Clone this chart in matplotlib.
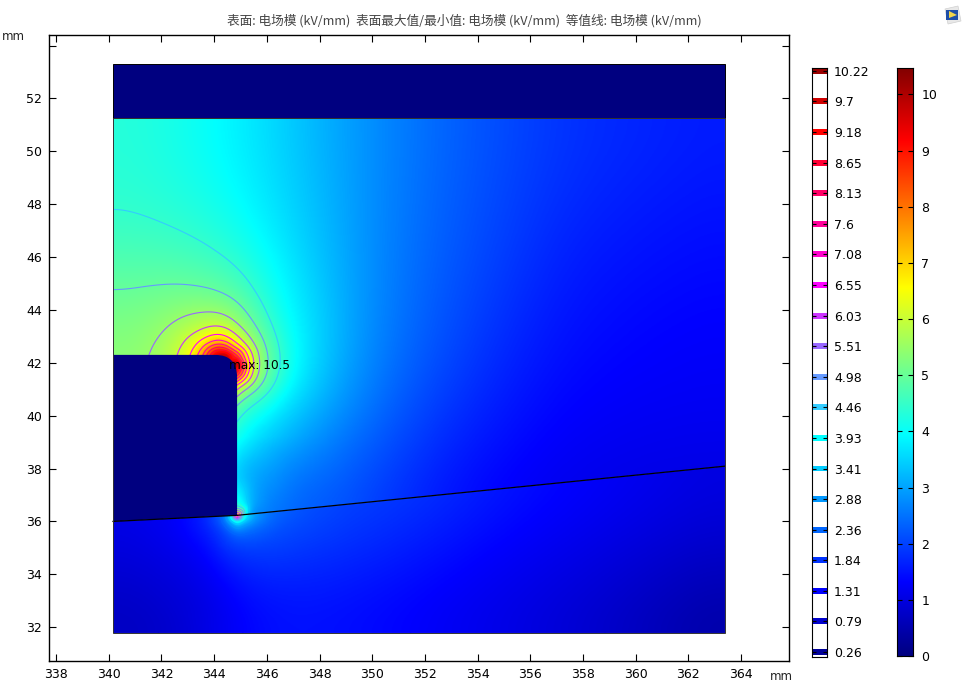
import matplotlib
matplotlib.use('Agg')
import matplotlib.pyplot as plt
import matplotlib.tri as mtri
import numpy as np
from matplotlib.colors import LinearSegmentedColormap
from matplotlib.patches import PathPatch, Polygon, Rectangle
from matplotlib.path import Path

W, H = 968, 685
title = '表面: 电场模 (kV/mm)  表面最大值/最小值: 电场模 (kV/mm)  等值线: 电场模 (kV/mm)'
max_label = 'max: 10.5'
fmax = 10.5

# contour levels in the legend bar
levels = [0.26, 0.79, 1.31, 1.84, 2.36, 2.88, 3.41, 3.93, 4.46, 4.98, 5.51,
          6.03, 6.55, 7.08, 7.6, 8.13, 8.65, 9.18, 9.7, 10.22]
level_labels = ['0.26', '0.79', '1.31', '1.84', '2.36', '2.88', '3.41', '3.93', '4.46', '4.98', '5.51',
                '6.03', '6.55', '7.08', '7.6', '8.13', '8.65', '9.18', '9.7', '10.22']

# geometry, mm
x_left, x_right = 340.16, 363.39
y_bottom, y_air_top, y_band_top = 31.78, 51.27, 53.3
y_block_top = 42.3
x_wall = 344.87
corner_x0, corner_y1 = 344.03, 41.45
x_int = [340.16, 344.87, 363.39]
y_int = [36.0, 36.23, 38.09]
hot_spots = [(344.64, 42.07), (344.87, 36.23)]

# field, upper region, one list per x node
upper_x = [340.16, 341.57, 342.71, 343.47, 344.03, 344.41, 344.87, 345.36, 345.93,
           346.50, 347.26, 348.40, 349.92, 352.57, 354.85, 357.13, 360.16, 363.39]
upper_y = [51.26, 49.29, 47.52, 45.89, 44.87, 43.92, 43.39, 43.05, 42.67, 42.30,
           41.92, 41.54, 41.27, 40.97, 40.40, 39.46, 37.95, 36.62, 36.20]
upper_field = [
    [4.38, 4.42, 4.46, 4.75, 4.98, 5.08, 5.15, 5.18, 5.2, 5.22, 5.22, 5.22, 5.22, 5.22, 5.22, 5.22, 5.22, 5.22, 5.22],
    [4.25, 4.3, 4.4, 4.75, 4.98, 5.17, 5.28, 5.33, 5.4, 5.45, 5.45, 5.45, 5.45, 5.45, 5.45, 5.45, 5.45, 5.45, 5.45],
    [4.1, 4.2, 4.32, 4.68, 5.0, 5.4, 5.65, 5.78, 5.9, 5.97, 6.0, 6.0, 6.0, 5.95, 5.9, 5.8, 5.5, 5.0, 5.0],
    [4.0, 4.1, 4.28, 4.62, 4.85, 5.45, 5.75, 6.08, 6.6, 7.08, 7.3, 7.2, 7.0, 6.6, 6.0, 5.5, 5.0, 4.5, 4.5],
    [3.92, 4.0, 4.2, 4.6, 4.9, 5.51, 6.03, 6.55, 7.6, 10.0, 10.2, 9.5, 8.5, 7.5, 6.0, 5.0, 4.0, 4.0, 4.0],
    [3.85, 3.95, 4.12, 4.5, 4.82, 5.4, 5.95, 6.45, 7.5, 10.0, 10.5, 10.3, 9.0, 7.0, 5.5, 4.5, 3.8, 4.0, 5.0],
    [3.78, 3.85, 4.0, 4.45, 4.8, 5.15, 5.5, 5.95, 6.55, 8.0, 10.2, 8.5, 6.55, 5.4, 4.46, 3.85, 3.1, 4.2, 7.0],
    [3.7, 3.78, 3.92, 4.2, 4.5, 4.85, 5.1, 5.4, 5.65, 6.2, 6.35, 6.1, 5.8, 5.2, 4.3, 3.75, 3.0, 3.1, 2.6],
    [3.6, 3.65, 3.75, 3.98, 4.2, 4.46, 4.65, 4.8, 4.92, 4.98, 5.02, 4.95, 4.8, 4.6, 4.1, 3.55, 2.9, 2.7, 2.5],
    [3.48, 3.52, 3.6, 3.75, 3.85, 4.0, 4.15, 4.25, 4.38, 4.46, 4.46, 4.4, 4.3, 4.15, 3.8, 3.35, 2.8, 2.5, 2.4],
    [3.3, 3.37, 3.45, 3.55, 3.62, 3.68, 3.72, 3.74, 3.76, 3.76, 3.75, 3.7, 3.65, 3.55, 3.3, 2.95, 2.5, 2.3, 2.2],
    [3.05, 3.1, 3.15, 3.2, 3.25, 3.28, 3.3, 3.3, 3.28, 3.27, 3.25, 3.22, 3.18, 3.12, 3.0, 2.75, 2.35, 2.15, 2.1],
    [2.8, 2.78, 2.76, 2.75, 2.74, 2.72, 2.7, 2.7, 2.68, 2.66, 2.64, 2.6, 2.58, 2.55, 2.48, 2.35, 2.1, 1.95, 1.9],
    [2.36, 2.34, 2.3, 2.26, 2.22, 2.19, 2.17, 2.15, 2.12, 2.1, 2.07, 2.03, 2.0, 1.97, 1.9, 1.8, 1.6, 1.5, 1.45],
    [2.1, 2.07, 2.02, 1.96, 1.9, 1.83, 1.8, 1.78, 1.75, 1.72, 1.7, 1.67, 1.65, 1.63, 1.58, 1.5, 1.35, 1.25, 1.2],
    [1.85, 1.8, 1.72, 1.62, 1.56, 1.52, 1.5, 1.48, 1.45, 1.43, 1.42, 1.4, 1.38, 1.37, 1.33, 1.27, 1.18, 1.1, 1.05],
    [1.7, 1.65, 1.55, 1.48, 1.42, 1.38, 1.36, 1.34, 1.33, 1.31, 1.3, 1.28, 1.27, 1.26, 1.24, 1.18, 1.08, 1.02, 1.0],
    [1.58, 1.52, 1.45, 1.38, 1.34, 1.3, 1.28, 1.27, 1.26, 1.25, 1.24, 1.23, 1.22, 1.21, 1.2, 1.15, 1.05, 1.0, 1.0],
]

# lower region, one list per y node
lower_x = [340.16, 341.57, 342.71, 343.65, 344.30, 344.60, 344.87, 345.17, 345.55,
           346.31, 347.26, 349.16, 351.81, 354.85, 358.65, 363.39]
lower_y = [38.32, 37.57, 36.81, 36.35, 36.20, 36.05, 35.82, 35.48, 34.92, 34.16, 33.03, 31.78]
lower_field = [
    [1.1, 1.1, 1.2, 1.6, 2.0, 2.5, 3.0, 2.6, 2.4, 2.2, 2.1, 2.0, 1.9, 1.55, 1.3, 1.0],
    [1.1, 1.1, 1.2, 1.6, 2.0, 2.5, 3.0, 2.6, 2.4, 2.2, 2.1, 2.0, 1.9, 1.55, 1.25, 0.98],
    [1.1, 1.1, 1.2, 1.6, 2.0, 2.5, 3.5, 3.0, 2.6, 2.4, 2.25, 2.05, 1.85, 1.5, 1.22, 0.95],
    [1.1, 1.12, 1.25, 1.65, 2.1, 3.0, 5.5, 3.6, 2.9, 2.4, 2.2, 2.0, 1.8, 1.48, 1.2, 0.92],
    [1.1, 1.15, 1.28, 1.7, 2.3, 3.6, 7.0, 3.8, 3.0, 2.4, 2.15, 1.98, 1.75, 1.45, 1.18, 0.9],
    [1.08, 1.15, 1.3, 1.8, 2.4, 3.3, 4.8, 3.4, 2.8, 2.33, 2.1, 1.95, 1.72, 1.42, 1.16, 0.88],
    [1.05, 1.12, 1.3, 1.6, 2.1, 2.6, 3.1, 2.7, 2.45, 2.15, 2.0, 1.9, 1.66, 1.4, 1.12, 0.85],
    [1.0, 1.08, 1.25, 1.5, 1.85, 2.1, 2.3, 2.25, 2.2, 2.05, 1.92, 1.84, 1.6, 1.35, 1.08, 0.8],
    [0.9, 1.0, 1.12, 1.33, 1.8, 1.85, 1.88, 1.9, 1.92, 1.9, 1.88, 1.78, 1.55, 1.28, 1.02, 0.72],
    [0.8, 0.9, 1.0, 1.15, 1.4, 1.5, 1.6, 1.65, 1.7, 1.75, 1.72, 1.6, 1.45, 1.2, 0.95, 0.6],
    [0.7, 0.78, 0.85, 1.0, 1.2, 1.25, 1.32, 1.4, 1.45, 1.5, 1.5, 1.45, 1.3, 1.1, 0.85, 0.45],
    [0.55, 0.62, 0.7, 0.85, 1.05, 1.2, 1.31, 1.35, 1.38, 1.4, 1.42, 1.38, 1.22, 1.02, 0.7, 0.25],
]

navy = '#000080'
stops = [0, 1 / 8, 3 / 8, 5 / 8, 7 / 8, 1]
surf_cmap = LinearSegmentedColormap.from_list(
    'surf', list(zip(stops, [navy, '#0000ff', '#00ffff', '#ffff00', '#ff0000', '#800000'])), N=512)
line_cmap = LinearSegmentedColormap.from_list(
    'lines', list(zip(stops, [navy, '#0000ff', '#00ffff', '#ff00ff', '#ff0000', '#800000'])), N=512)

plt.rcParams['font.family'] = ['DejaVu Sans']
plt.rcParams['font.size'] = 9


def px_axes(x0, y0, x1, y1):
    return fig.add_axes([x0 / W, 1 - y1 / H, (x1 - x0) / W, (y1 - y0) / H])


def blur(z, sigma):
    # sigma in grid cells
    if sigma == 0:
        return z
    r = int(3 * sigma) + 1
    k = np.exp(-0.5 * (np.arange(-r, r + 1) / sigma) ** 2)
    k /= k.sum()
    p = np.pad(z, r, mode='reflect')
    p = np.apply_along_axis(lambda v: np.convolve(v, k, mode='same'), 0, p)
    p = np.apply_along_axis(lambda v: np.convolve(v, k, mode='same'), 1, p)
    return p[r:-r, r:-r]


def draw_region(ax, xs, ys, field, clip, step=0.04):
    X, Y = np.meshgrid(xs, ys)
    tri = mtri.Triangulation(X.ravel(), Y.ravel())
    interp = mtri.LinearTriInterpolator(tri, field.ravel())
    gx = np.arange(min(xs), max(xs) + step, step)
    gy = np.arange(min(ys), max(ys) + step, step)
    GX, GY = np.meshgrid(np.clip(gx, min(xs), max(xs)), np.clip(gy, min(ys), max(ys)))
    z = np.ma.filled(interp(GX, GY), 1.0)
    # the table is coarse: smooth it, little next to the two hot spots and more far from them
    d = np.min([np.hypot(GX - sx, GY - sy) for sx, sy in hot_spots], axis=0)
    sig_mm = np.clip(0.28 * d, 0, 1.2)
    sig_list = np.array([0, 0.05, 0.1, 0.2, 0.4, 0.8, 1.2])
    stack = np.array([blur(z, s / step) for s in sig_list])
    pos = np.interp(sig_mm, sig_list, np.arange(len(sig_list)))
    i0 = np.minimum(pos.astype(int), len(sig_list) - 2)
    t = pos - i0
    rows, cols = np.indices(z.shape)
    z = stack[i0, rows, cols] * (1 - t) + stack[i0 + 1, rows, cols] * t
    im = ax.imshow(z, extent=[gx[0], gx[-1], gy[0], gy[-1]], origin='lower', aspect='auto',
                   cmap=surf_cmap, vmin=0, vmax=fmax, interpolation='bilinear', zorder=1)
    im.set_clip_path(clip)
    cs = ax.contour(gx, gy, z, levels=levels, cmap=line_cmap, vmin=0, vmax=fmax, linewidths=0.8, zorder=2)
    cs.set_clip_path(clip)


fig = plt.figure(figsize=(W / 100, H / 100), dpi=100)
ax = px_axes(49, 35, 789, 661)

upper_clip = Polygon([(x_left, y_air_top), (x_right, y_air_top), (x_int[2], y_int[2]),
                      (x_int[1], y_int[1]), (x_int[0], y_int[0])], transform=ax.transData)
lower_clip = Polygon([(x_int[0], y_int[0]), (x_int[1], y_int[1]), (x_int[2], y_int[2]),
                      (x_right, y_bottom), (x_left, y_bottom)], transform=ax.transData)

# upper_field is per x node, lower_field per y node (top to bottom)
draw_region(ax, upper_x, upper_y, np.array(upper_field).T, upper_clip)
draw_region(ax, lower_x, lower_y, np.array(lower_field), lower_clip)
ax.set_xlim(337.73, 365.82)
ax.set_ylim(30.72, 54.40)

# solid parts
ax.add_patch(Rectangle((x_left, y_air_top), x_right - x_left, y_band_top - y_air_top,
                       fc=navy, ec='black', lw=0.7, zorder=3))
block = Path([(x_left, y_int[0]), (x_left, y_block_top), (corner_x0, y_block_top),
              (x_wall, y_block_top), (x_wall, corner_y1), (x_wall, y_int[1]), (x_left, y_int[0])],
             [Path.MOVETO, Path.LINETO, Path.LINETO, Path.CURVE3, Path.CURVE3, Path.LINETO, Path.CLOSEPOLY])
ax.add_patch(PathPatch(block, fc=navy, ec='none', zorder=3))
ax.plot(x_int, y_int, color='black', lw=0.9, zorder=4)
ax.add_patch(Rectangle((x_left, y_bottom), x_right - x_left, y_air_top - y_bottom,
                       fc='none', ec='#333333', lw=0.7, zorder=4))
ax.text(344.55, 41.9, max_label, fontsize=8.7, color='black', va='center', ha='left', zorder=5)

ax.set_xticks(np.arange(338, 365, 2))
ax.set_yticks(np.arange(32, 55, 2))
ax.set_yticklabels([str(v) for v in range(32, 54, 2)] + [''])
ax.tick_params(direction='in', top=True, right=True, length=5, width=0.8, labelsize=9, pad=5)
for s in ax.spines.values():
    s.set_linewidth(1.0)
fig.text(2 / W, 1 - 37 / H, 'mm', fontsize=8.5, color='#222222', va='center')
fig.text(770 / W, 1 - 676 / H, 'mm', fontsize=8.5, color='#222222', va='center')
fig.text(464 / W, 1 - 21 / H, title, fontsize=9.14, color='#444444', ha='center', va='center',
         family=['Noto Sans CJK SC', 'DejaVu Sans'])

# contour legend
lax = px_axes(812, 68, 827, 656.5)
lax.set_ylim(0.19, 10.27)
lax.set_xlim(0, 1)
for lev in levels:
    lax.barh(lev, 1, height=0.102, left=0, color=line_cmap(lev / fmax))
lax.set_xticks([])
lax.set_yticks(levels)
lax.set_yticklabels(level_labels)
lax.yaxis.tick_right()
lax.tick_params(axis='y', direction='in', left=True, right=True, length=3, width=0.8, labelsize=9, pad=5)

# surface colour bar
cax = px_axes(897, 68, 913, 656)
cax.imshow(np.linspace(0, fmax, 512)[:, None], origin='lower', aspect='auto', cmap=surf_cmap,
           vmin=0, vmax=fmax, extent=[0, 1, 0, fmax])
cax.set_ylim(0, 10.47)
cax.set_xticks([])
cax.set_yticks(range(0, 11))
cax.yaxis.tick_right()
cax.tick_params(axis='y', direction='in', left=True, right=True, length=3.5, width=0.8, labelsize=9, pad=6)

# small logo at the top right corner
fig.add_artist(Polygon([(945 / W, 1 - 9 / H), (958 / W, 1 - 6 / H), (961 / W, 1 - 21 / H), (948 / W, 1 - 24 / H)],
                       closed=True, fc='#e8e8e8', ec='#d0d0d0', lw=0.5, transform=fig.transFigure))
fig.add_artist(Rectangle((946 / W, 1 - 20 / H), 12 / W, 10 / H, fc='#1f4fa8', ec='none', transform=fig.transFigure))
fig.add_artist(Polygon([(949 / W, 1 - 11 / H), (957 / W, 1 - 15 / H), (949 / W, 1 - 18 / H)],
                       closed=True, fc='#f2d64b', ec='none', transform=fig.transFigure))

fig.savefig('out.png', dpi=100)
